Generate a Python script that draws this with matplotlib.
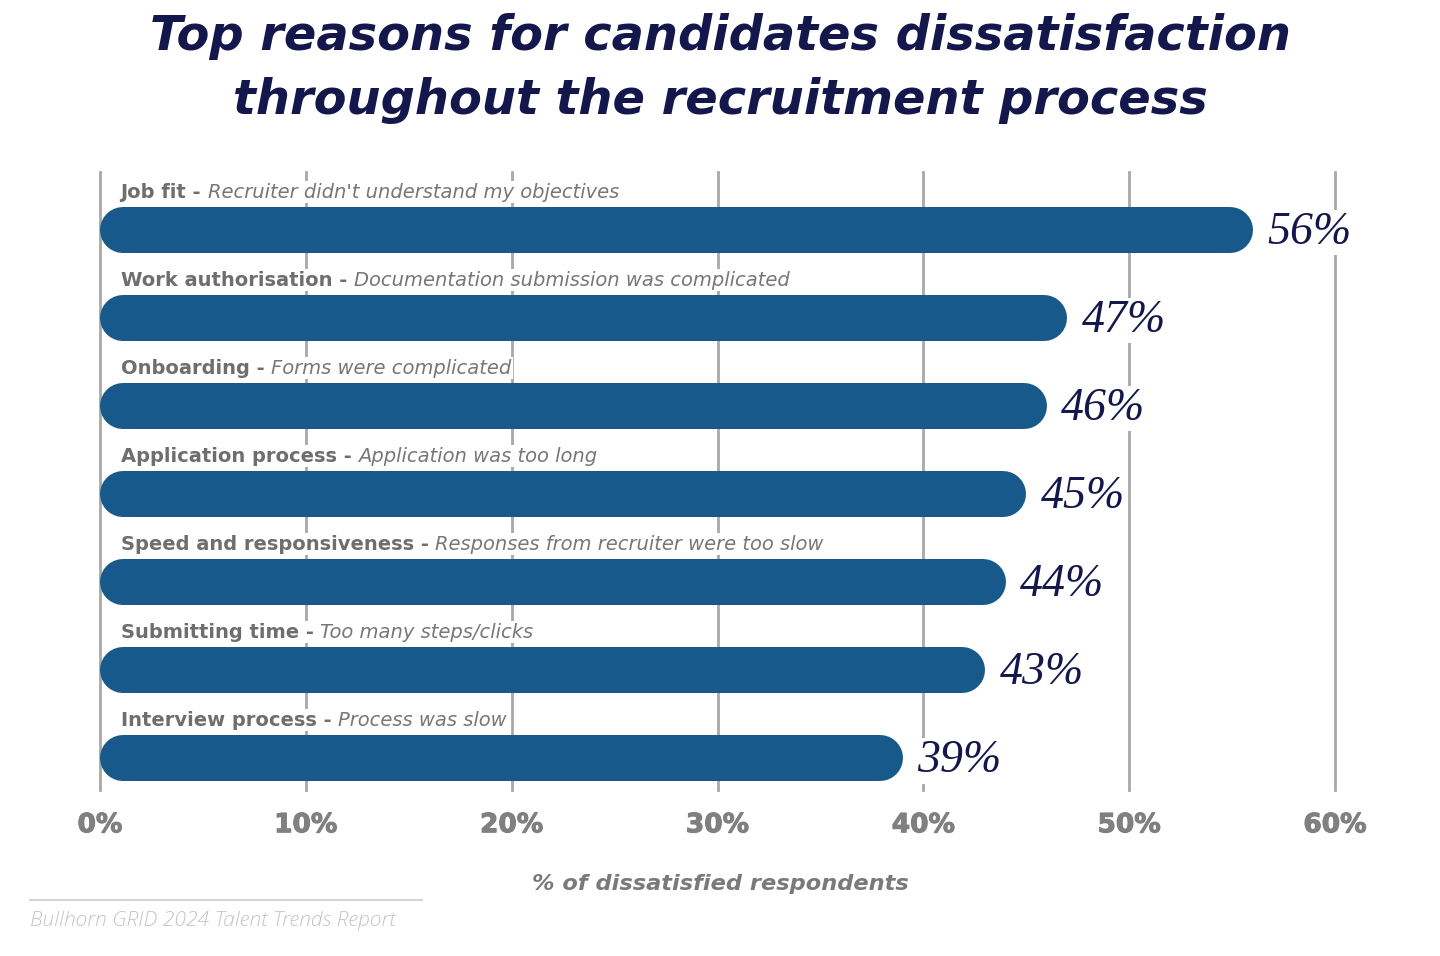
import matplotlib.pyplot as plt
import matplotlib.patheffects as pe
from matplotlib.lines import Line2D

# data
categories = ["Job fit", "Work authorisation", "Onboarding", "Application process",
              "Speed and responsiveness", "Submitting time", "Interview process"]
reasons = ["Recruiter didn't understand my objectives",
           "Documentation submission was complicated",
           "Forms were complicated",
           "Application was too long",
           "Responses from recruiter were too slow",
           "Too many steps/clicks",
           "Process was slow"]
values = [56, 47, 46, 45, 44, 43, 39]
xticks = [0, 10, 20, 30, 40, 50, 60]

navy = '#14174b'
bar_color = '#16598a'
label_grey = '#6e6e6e'

fig = plt.figure(figsize=(14.4, 9.56), dpi=100)
W, H = 1440, 956
ax_left, ax_right, ax_top, ax_bottom = 100, 1335, 172, 790
ax = fig.add_axes([ax_left / W, 1 - ax_bottom / H, (ax_right - ax_left) / W, (ax_bottom - ax_top) / H])
ax.set_xlim(0, 60)
ax.set_ylim(6.36, -0.66)
for s in ax.spines.values():
    s.set_visible(False)
ax.set_yticks([])
ax.set_xticks(xticks)
ax.set_xticklabels([f"{t}%" for t in xticks], family='DejaVu Sans', weight='bold')
ax.tick_params(axis='x', length=0, pad=16, labelsize=19, labelcolor='#808080')
for lbl in ax.get_xticklabels():
    lbl.set_path_effects([pe.withStroke(linewidth=0.8, foreground='#808080')])
ax.grid(axis='x', color='#a8a8a8', lw=2)
for gl in ax.xaxis.get_gridlines():
    gl.set_clip_on(False)
ax.set_axisbelow(True)

# rounded bars drawn as thick lines with round caps
bar_px = 46
lw = bar_px * 72 / fig.dpi
r = (bar_px / 2) / ((ax_right - ax_left) / 60)
for i, v in enumerate(values):
    ax.plot([r, v - r], [i, i], lw=lw, color=bar_color, solid_capstyle='round', zorder=2)
    ax.text(v + 0.7, i + 0.03, f"{v}%", family='Liberation Serif', style='italic', size=33,
            color=navy, va='center', ha='left', zorder=3,
            bbox=dict(facecolor='white', edgecolor='none', pad=1))
    t = ax.text(1.0, i - 0.37, categories[i] + " - ", family='DejaVu Sans', weight='bold',
                size=14, color=label_grey, va='baseline', ha='left', zorder=3,
                bbox=dict(facecolor='white', edgecolor='none', pad=1))
    ax.annotate(reasons[i], xy=(1, 0), xycoords=t, family='DejaVu Sans', style='italic',
                size=14, color='#777777', va='bottom', ha='left', zorder=3,
                bbox=dict(facecolor='white', edgecolor='none', pad=1))

# title
fig.text(0.5, 1 - 37 / H, "Top reasons for candidates dissatisfaction", ha='center', va='center',
         family='DejaVu Sans', weight='bold', style='italic', size=34.5, color=navy)
fig.text(0.5, 1 - 100 / H, "throughout the recruitment process", ha='center', va='center',
         family='DejaVu Sans', weight='bold', style='italic', size=34.5, color=navy)

# axis label
fig.text(720 / W, 1 - 884 / H, "% of dissatisfied respondents", ha='center', va='center',
         family='DejaVu Sans', weight='bold', style='italic', size=16.2, color='#7a7a7a')

# footer
fig.add_artist(Line2D([30 / W, 422 / W], [1 - 900 / H] * 2, color='#d4d4d4', lw=1.5))
fig.text(30 / W, 1 - 921 / H, "Bullhorn GRID 2024 Talent Trends Report", ha='left', va='center',
         family='Open Sans', style='italic', weight='light', size=15.2, color='#c4c4c4')

fig.savefig('out.png', dpi=100, facecolor='white')
